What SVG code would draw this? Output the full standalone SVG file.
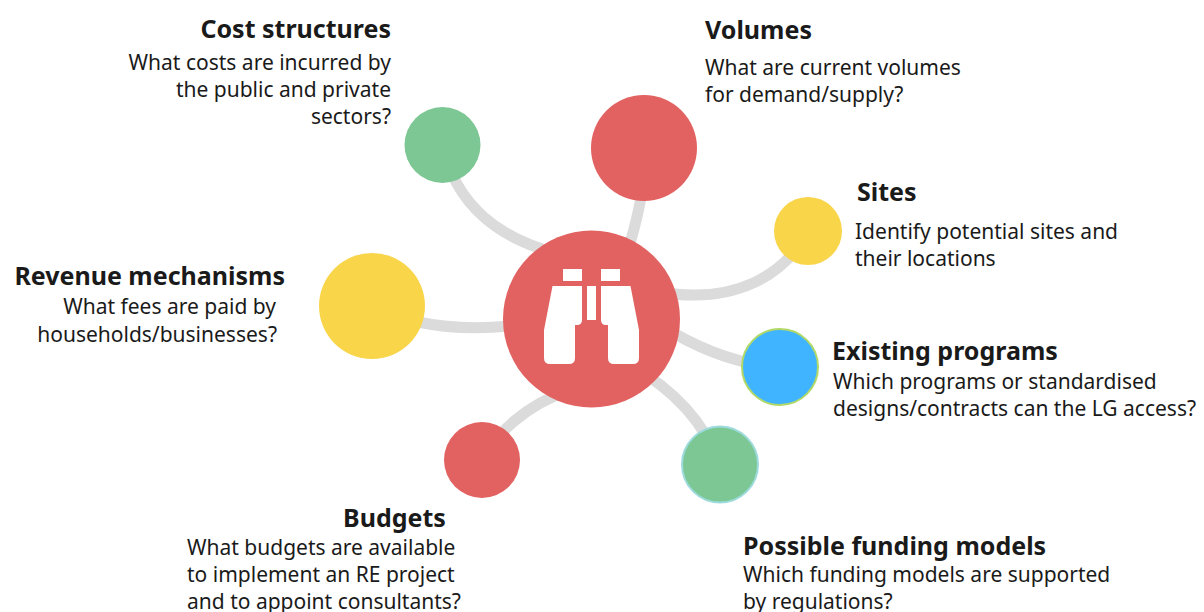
<svg xmlns="http://www.w3.org/2000/svg" width="1204" height="612" viewBox="0 0 1204 612">
<style>
text{font-family:"Noto Sans","Open Sans",sans-serif;fill:#1a1a1a}
.t{font-size:25px;font-weight:700}
.b{font-size:21px}
.e{text-anchor:end}
#connectors path{fill:none;stroke:#dbdbdb;stroke-width:11}
</style>
<rect width="1204" height="612" fill="#fff"/>
<g id="connectors">
<path d="M443 145C455 205 500 240 560 254"/>
<path d="M644 148C648 180 636 225 625 260"/>
<path d="M808 231C785 275 735 305 660 292"/>
<path d="M780 367C740 365 700 350 660 325"/>
<path d="M720 464C705 425 675 390 630 365"/>
<path d="M482 460C495 435 525 405 570 390"/>
<path d="M372 306C410 325 460 332 520 325"/>
</g>
<g id="hub">
<circle cx="591.500" cy="319" r="88.500" fill="#e26161"/>
<g fill="#fff">
<rect x="563" y="269" width="19" height="12"/>
<rect x="601" y="269" width="19" height="12"/>
<rect x="587" y="286" width="9" height="34"/>
<path d="M552.500 286H582V320Q582 325 577 325H575V358Q575 364 569 364H550Q544 364 544 358V330Z"/>
<path d="M630.500 286H601V320Q601 325 606 325H608V358Q608 364 614 364H633Q639 364 639 358V330Z"/>
</g>
</g>
<g id="cost-structures">
<circle cx="442.500" cy="145" r="38" fill="#7dc795"/>
<text class="t e" x="391" y="38">Cost structures</text>
<text class="b e" x="391" y="70">What costs are incurred by</text>
<text class="b e" x="391" y="97">the public and private</text>
<text class="b e" x="391" y="124">sectors?</text>
</g>
<g id="volumes">
<circle cx="644" cy="148" r="53" fill="#e26161"/>
<text class="t" x="705" y="39">Volumes</text>
<text class="b" x="705" y="75">What are current volumes</text>
<text class="b" x="705" y="102">for demand/supply?</text>
</g>
<g id="sites">
<circle cx="808" cy="231" r="34" fill="#f9d54a"/>
<text class="t" x="857" y="201">Sites</text>
<text class="b" x="855" y="239">Identify potential sites and</text>
<text class="b" x="855" y="266">their locations</text>
</g>
<g id="existing-programs">
<circle cx="780" cy="367" r="38" fill="#41b4ff" stroke="#b0d968" stroke-width="2"/>
<text class="t" x="832" y="360">Existing programs</text>
<text class="b" x="833" y="389">Which programs or standardised</text>
<text class="b" x="833" y="416">designs/contracts can the LG access?</text>
</g>
<g id="funding-models">
<circle cx="720" cy="464.500" r="38" fill="#7dc795" stroke="#9ddbdc" stroke-width="2"/>
<text class="t" x="743" y="555">Possible funding models</text>
<text class="b" x="743" y="582">Which funding models are supported</text>
<text class="b" x="743" y="609">by regulations?</text>
</g>
<g id="budgets">
<circle cx="482" cy="460" r="38" fill="#e26161"/>
<text class="t" x="343" y="527">Budgets</text>
<text class="b" x="187" y="555">What budgets are available</text>
<text class="b" x="187" y="582">to implement an RE project</text>
<text class="b" x="187" y="609">and to appoint consultants?</text>
</g>
<g id="revenue-mechanisms">
<circle cx="372" cy="306" r="53" fill="#f9d54a"/>
<text class="t e" x="285" y="285">Revenue mechanisms</text>
<text class="b e" x="276" y="314">What fees are paid by</text>
<text class="b e" x="277" y="342">households/businesses?</text>
</g>
</svg>
